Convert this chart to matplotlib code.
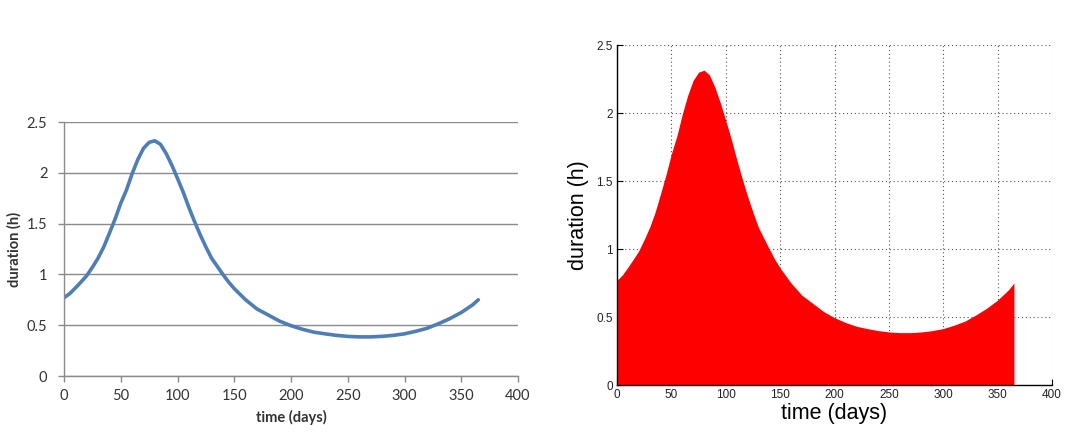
import numpy as np
import matplotlib
matplotlib.use("Agg")
import matplotlib.pyplot as plt

# Daily duration over the year (hours)
days = [0, 5, 10, 15, 20, 25, 30, 35, 40, 45, 50, 55, 60, 65, 70, 75, 80, 85,
        90, 95, 100, 105, 110, 115, 120, 125, 130, 135, 140, 145, 150, 160,
        170, 180, 190, 200, 210, 220, 230, 240, 250, 260, 270, 280, 290, 300,
        310, 320, 330, 340, 350, 360, 365]
duration = [0.77, 0.81, 0.866, 0.925, 0.987, 1.07, 1.16, 1.27, 1.405, 1.545,
            1.70, 1.83, 1.99, 2.13, 2.24, 2.30, 2.315, 2.28, 2.19, 2.075, 1.945,
            1.81, 1.66, 1.52, 1.39, 1.27, 1.16, 1.08, 1.00, 0.925, 0.86, 0.75,
            0.66, 0.60, 0.54, 0.495, 0.46, 0.432, 0.415, 0.40, 0.39, 0.385,
            0.385, 0.39, 0.40, 0.415, 0.44, 0.47, 0.515, 0.565, 0.625, 0.70,
            0.75]

x_ticks = [0, 50, 100, 150, 200, 250, 300, 350, 400]
y_ticks = [0, 0.5, 1, 1.5, 2, 2.5]
y_tick_labels = ["0", "0.5", "1", "1.5", "2", "2.5"]

fig = plt.figure(figsize=(10.70, 4.36), dpi=100)
fig.patch.set_facecolor("white")

# ---- Left: spreadsheet-style line chart ----
axl = fig.add_axes([64 / 1070, 1 - 376 / 436, 454 / 1070, 254 / 436])
axl.plot(days, duration, color="#4F7DB5", lw=2.6, solid_capstyle="round",
         solid_joinstyle="round")
axl.set_xlim(0, 400)
axl.set_ylim(0, 2.5)
axl.set_xticks(x_ticks)
axl.set_yticks(y_ticks)
axl.set_yticklabels(y_tick_labels)
axl.yaxis.grid(True, color="#8a8a8a", lw=1.0)
axl.set_axisbelow(True)
for s in ("top", "right"):
    axl.spines[s].set_visible(False)
for s in ("left", "bottom"):
    axl.spines[s].set_color("#8a8a8a")
    axl.spines[s].set_linewidth(1.0)
axl.tick_params(axis="both", direction="out", length=4, width=1.0,
                color="#8a8a8a", labelsize=10.5, labelcolor="#333333")
axl.tick_params(axis="x", pad=5)
axl.tick_params(axis="y", pad=8)
for lab in axl.get_xticklabels() + axl.get_yticklabels():
    lab.set_family("Lato")
axl.set_xlabel("time (days)", fontsize=10.5, fontweight="bold",
               family="Lato", color="#333333", labelpad=5)
axl.set_ylabel("duration (h)", fontsize=10.5, fontweight="bold",
               family="Lato", color="#333333", labelpad=4)

# ---- Right: filled area chart ----
axr = fig.add_axes([617 / 1070, 1 - 385 / 436, 435 / 1070, 340 / 436])
axr.fill_between(days, duration, 0, color="#ff0000", lw=0)
axr.set_xlim(0, 400)
axr.set_ylim(0, 2.5)
axr.set_xticks(x_ticks)
axr.set_yticks(y_ticks)
axr.set_yticklabels(y_tick_labels)
axr.grid(True, linestyle=(0, (1, 2.5)), color="#555555", lw=0.8)
axr.set_axisbelow(True)
for s in ("top", "right"):
    axr.spines[s].set_visible(False)
for s in ("left", "bottom"):
    axr.spines[s].set_color("black")
    axr.spines[s].set_linewidth(1.0)
axr.tick_params(axis="both", direction="in", length=4, width=0.8,
                labelsize=8.5, labelcolor="#222222")
axr.tick_params(axis="x", pad=3)
axr.tick_params(axis="y", pad=3)
for lab in axr.get_xticklabels() + axr.get_yticklabels():
    lab.set_family("Liberation Sans")
axr.set_xlabel("time (days)", fontsize=15.5, family="Liberation Sans",
               color="black", labelpad=1)
axr.set_ylabel("duration (h)", fontsize=15.5, family="Liberation Sans",
               color="black", labelpad=5)

fig.savefig("out.png", dpi=100, facecolor="white")
